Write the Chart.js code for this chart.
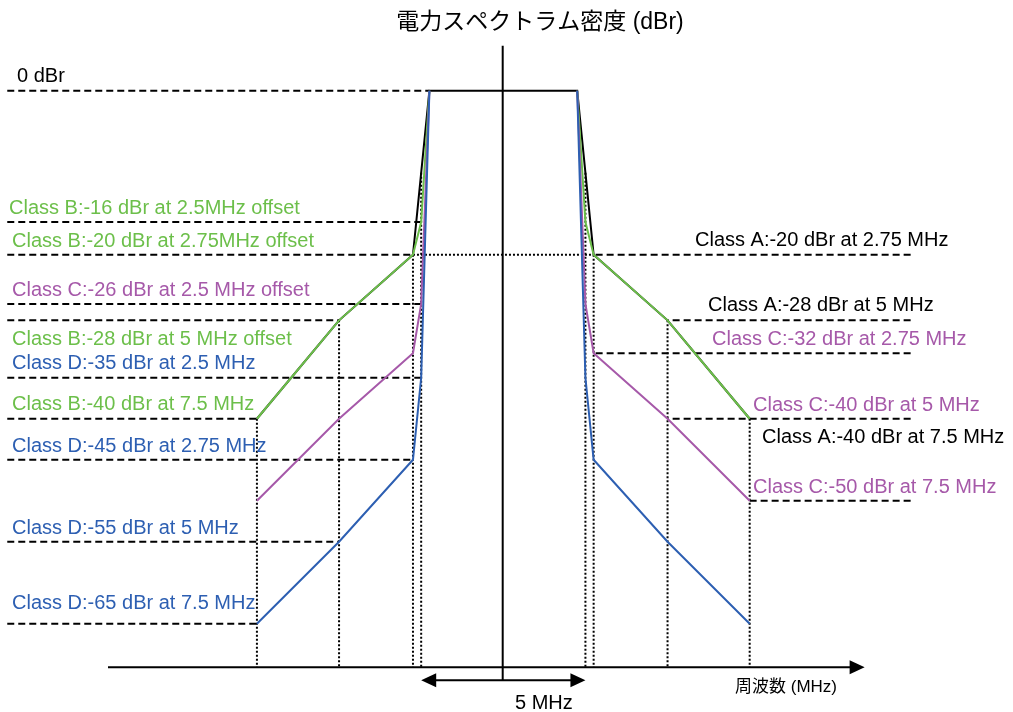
<!DOCTYPE html>
<html>
<head>
<meta charset="utf-8">
<title>電力スペクトラム密度</title>
<script src="https://cdn.jsdelivr.net/npm/chart.js@4.4.1/dist/chart.umd.min.js"></script>
<style>
	html, body { margin: 0; padding: 0; background: #fff; }
	#wrap { width: 1013px; height: 712px; }
</style>
</head>
<body>
<div id="wrap"><canvas id="chart" width="1013" height="712"></canvas></div>
<script>
// offsets from the channel centre (MHz) where the masks have corners
let offsets = [2.25, 2.5, 2.75, 5, 7.5];
// mask levels (dBr) at those offsets, null where a class has no corner
let classA = [0, null, -20, -28, -40];
let classB = [0, -16, -20, -28, -40];
let classC = [0, -26, -32, -40, -50];
let classD = [0, -35, -45, -55, -65];
// level (dBr) where the dotted drop lines start, for 2.5 / 2.75 / 5 / 7.5 MHz
let dropLevels = [-10, -20, -28, -40];
let bandwidth = 5; // MHz

let colors = { A: "#000000", B: "#6cbf4a", C: "#a659a9", D: "#2d5fb2" };

// dashed markers: [mask, corner index, text, colour]
let leftMarks = [
	[classA, 0, "0 dBr", colors.A],
	[classB, 1, "Class B:-16 dBr at 2.5MHz offset", colors.B],
	[classB, 2, "Class B:-20 dBr at 2.75MHz offset", colors.B],
	[classC, 1, "Class C:-26 dBr at 2.5 MHz offset", colors.C],
	[classB, 3, "Class B:-28 dBr at 5 MHz offset", colors.B],
	[classD, 1, "Class D:-35 dBr at 2.5 MHz", colors.D],
	[classB, 4, "Class B:-40 dBr at 7.5 MHz", colors.B],
	[classD, 2, "Class D:-45 dBr at 2.75 MHz", colors.D],
	[classD, 3, "Class D:-55 dBr at 5 MHz", colors.D],
	[classD, 4, "Class D:-65 dBr at 7.5 MHz", colors.D],
];
let rightMarks = [
	[classA, 2, "Class A:-20 dBr at 2.75 MHz", colors.A],
	[classA, 3, "Class A:-28 dBr at 5 MHz", colors.A],
	[classC, 2, "Class C:-32 dBr at 2.75 MHz", colors.C],
	[classC, 3, "Class C:-40 dBr at 5 MHz", colors.C],
	[classA, 4, "Class A:-40 dBr at 7.5 MHz", colors.A],
	[classC, 4, "Class C:-50 dBr at 7.5 MHz", colors.C],
];

// label placement (px): left x, baseline offset from the dashed line
let leftLabelX = [17, 9, 12, 12, 12, 12, 12, 12, 12, 12];
let leftLabelDy = [-9, -8, -8, -8, 25, -9, -9, -8, -8, -15];
let rightLabelX = [695, 708, 712, 753, 762, 753];
let rightLabelDy = [-9, -9, -8, -8, 24, -8];

let LEFT_EDGE = -15.1;
let RIGHT_EDGE = 12.4;
let Y_MIN = -70.3;
let Y_MAX = 5;

let half = (levels, sign) => {
	let pts = [];
	offsets.forEach((f, i) => {
		if (levels[i] !== null) pts.push({ x: sign * f, y: levels[i] });
	});
	return pts;
};
let mask = (levels, joined) => {
	let left = half(levels, -1).reverse();
	let right = half(levels, 1);
	return joined ? left.concat(right) : left.concat([{ x: 0, y: null }], right);
};

let gap = { x: 0, y: null };
let dashed = [];
leftMarks.forEach(m => {
	let v = m[0][m[1]];
	dashed.push({ x: LEFT_EDGE, y: v }, { x: -offsets[m[1]], y: v }, gap);
});
rightMarks.forEach(m => {
	let v = m[0][m[1]];
	dashed.push({ x: RIGHT_EDGE, y: v }, { x: offsets[m[1]], y: v }, gap);
});

let dotted = [];
dropLevels.forEach((v, i) => {
	let f = offsets[i + 1];
	dotted.push({ x: -f, y: v }, { x: -f, y: Y_MIN }, gap);
	dotted.push({ x: f, y: v }, { x: f, y: Y_MIN }, gap);
});
dotted.push({ x: -offsets[2], y: classB[2] }, { x: offsets[2], y: classB[2] });

let line = (data, color, order, extra) => Object.assign({
	data: data,
	showLine: true,
	borderColor: color,
	backgroundColor: color,
	borderWidth: 2,
	pointRadius: 0,
	spanGaps: false,
	tension: 0,
	clip: false,
	order: order,
}, extra || {});

let arrowHead = (ctx, tx, ty, dir, len, halfW) => {
	ctx.beginPath();
	ctx.moveTo(tx, ty);
	ctx.lineTo(tx - dir * len, ty - halfW);
	ctx.lineTo(tx - dir * len, ty + halfW);
	ctx.closePath();
	ctx.fill();
};

let overlay = {
	id: "overlay",
	afterDatasetsDraw(chart) {
		let ctx = chart.ctx;
		let x = chart.scales.x;
		let y = chart.scales.y;
		ctx.save();
		ctx.strokeStyle = "#000";
		ctx.fillStyle = "#000";
		ctx.lineWidth = 2;
		ctx.setLineDash([]);

		// frequency axis with arrow
		let axisY = y.getPixelForValue(Y_MIN);
		let tip = x.getPixelForValue(11);
		ctx.beginPath();
		ctx.moveTo(108, axisY);
		ctx.lineTo(tip - 12, axisY);
		ctx.stroke();
		arrowHead(ctx, tip, axisY, 1, 15, 7);

		// centre line
		let cx = x.getPixelForValue(0) - 0.6;
		let arrowY = axisY + 13;
		ctx.beginPath();
		ctx.moveTo(cx, y.getPixelForValue(Y_MAX) - 4);
		ctx.lineTo(cx, arrowY);
		ctx.stroke();

		// bandwidth arrow
		let bl = x.getPixelForValue(-bandwidth / 2);
		let br = x.getPixelForValue(bandwidth / 2);
		ctx.beginPath();
		ctx.moveTo(bl + 10, arrowY);
		ctx.lineTo(br - 10, arrowY);
		ctx.stroke();
		arrowHead(ctx, bl, arrowY, -1, 15, 7);
		arrowHead(ctx, br, arrowY, 1, 15, 7);

		// texts
		ctx.textBaseline = "alphabetic";
		ctx.textAlign = "left";
		ctx.font = '20px "Liberation Sans", Arial, sans-serif';
		leftMarks.forEach((m, i) => {
			ctx.fillStyle = m[3];
			ctx.fillText(m[2], leftLabelX[i], y.getPixelForValue(m[0][m[1]]) + leftLabelDy[i]);
		});
		rightMarks.forEach((m, i) => {
			ctx.fillStyle = m[3];
			ctx.fillText(m[2], rightLabelX[i], y.getPixelForValue(m[0][m[1]]) + rightLabelDy[i]);
		});

		ctx.fillStyle = "#000";
		ctx.fillText(bandwidth + " MHz", 515, 709);
		ctx.font = '17px "Liberation Sans", "Noto Sans CJK JP", sans-serif';
		ctx.fillText("周波数 (MHz)", 735, 692);
		ctx.textAlign = "center";
		ctx.font = '23px "Liberation Sans", "Noto Sans CJK JP", sans-serif';
		ctx.fillText("電力スペクトラム密度 (dBr)", 540, 29);
		ctx.restore();
	},
};

let renderChart = () => {
	let canvas = document.getElementById("chart");
	new Chart(canvas, {
		type: "scatter",
		data: {
			datasets: [
				line(mask(classD, false), colors.D, 1),
				line(mask(classC, false), colors.C, 2),
				line(mask(classB, false), colors.B, 3),
				line(mask(classA, true), colors.A, 4),
				line(dashed, "#000", 5, { borderDash: [7, 4] }),
				line(dotted, "#000", 6, { borderDash: [2, 2], borderWidth: 2 }),
			],
		},
		options: {
			responsive: false,
			devicePixelRatio: 1,
			animation: false,
			layout: { padding: { left: 109.1, right: 115.5, top: 49.8, bottom: 44.8 } },
			scales: {
				x: { type: "linear", min: -12, max: 12, display: false },
				y: { type: "linear", min: Y_MIN, max: Y_MAX, display: false },
			},
			plugins: {
				legend: { display: false },
				tooltip: { enabled: false },
				title: { display: false },
			},
		},
		plugins: [overlay],
	});
};
renderChart();
</script>
</body>
</html>
